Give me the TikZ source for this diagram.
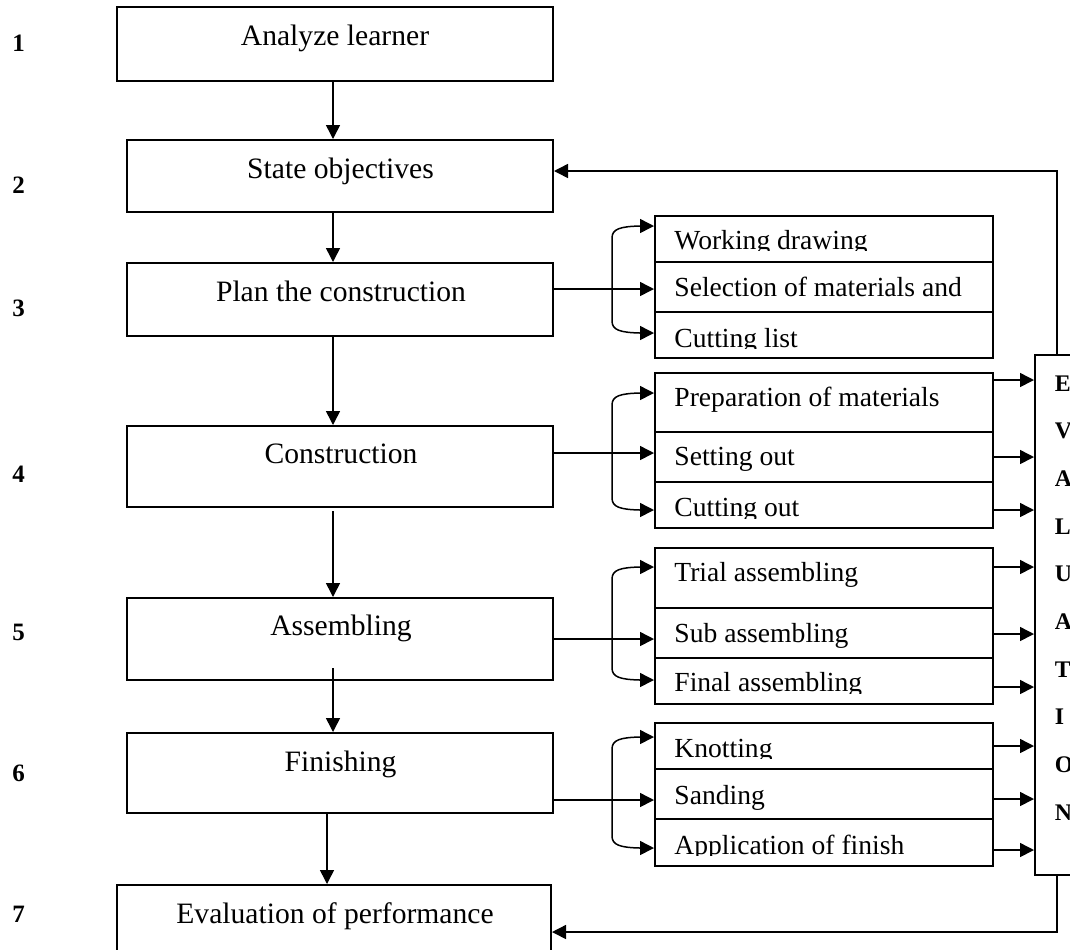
\documentclass[tikz,border=0pt]{standalone}
\usepackage{fontspec}
\setmainfont{Liberation Serif}
\usetikzlibrary{arrows.meta,calc}
\begin{document}
\begin{tikzpicture}[x=0.5pt,y=-0.5pt,
  box/.style={draw,line width=1pt,rectangle,inner sep=0pt},
  cell/.style={draw,line width=1pt,rectangle,inner sep=0pt,minimum width=169pt},
  maintxt/.style={inner sep=0pt,anchor=base,font=\fontsize{14.8}{17}\selectfont},
  subtxt/.style={inner sep=0pt,anchor=base west,font=\fontsize{13.8}{16}\selectfont},
  num/.style={inner sep=0pt,anchor=base,font=\bfseries\fontsize{12.5}{15}\selectfont},
  evtxt/.style={inner sep=0pt,anchor=north west,align=left,font=\bfseries\fontsize{11.9}{23.85}\selectfont},
  arr/.style={line width=0.75pt,-{Triangle[length=7pt,width=7pt]}},
  brace/.style={line width=0.75pt,{Triangle[length=7pt,width=7pt]}-{Triangle[length=7pt,width=7pt]}}]
\useasboundingbox (0,0) rectangle (1070,949);
\clip (0,0) rectangle (1070,949);

% main column boxes
\node[box,minimum width=218pt,minimum height=37pt] (a1) at (335,44) {};
\node[box,minimum width=213pt,minimum height=36pt] (a2) at (340,176) {};
\node[box,minimum width=213pt,minimum height=36.5pt] (a3) at (340,299.5) {};
\node[box,minimum width=213pt,minimum height=40.5pt] (a4) at (340,466.5) {};
\node[box,minimum width=213pt,minimum height=41pt] (a5) at (340,639) {};
\node[box,minimum width=213pt,minimum height=40pt] (a6) at (340,773) {};
\node[box,minimum width=217pt,minimum height=47pt] (a7) at (334,932) {};

\node[maintxt] (t1) at (335,45) {Analyze learner};
\node[maintxt] (t2) at (340.5,178.3) {State objectives};
\node[maintxt] (t3) at (341,301) {Plan the construction};
\node[maintxt] (t4) at (341,463) {Construction};
\node[maintxt] (t5) at (341,635.7) {Assembling};
\node[maintxt] (t6) at (340.5,771) {Finishing};
\node[maintxt] (t7) at (335,923.3) {Evaluation of performance};

% step numbers
\node[num] (n1) at (18.6,51.7) {1};
\node[num] (n2) at (18.6,193) {2};
\node[num] (n3) at (18.6,316) {3};
\node[num] (n4) at (18.6,482) {4};
\node[num] (n5) at (18.6,640.7) {5};
\node[num] (n6) at (18.6,781.7) {6};
\node[num] (n7) at (18.6,922.3) {7};

% sub-step cells
\node[cell,minimum height=23pt] (wd) at (824,239) {};
\node[cell,minimum height=25pt] (sm) at (824,287) {};
\node[cell,minimum height=23pt] (cl) at (824,335) {};
\node[cell,minimum height=29.5pt] (pm) at (824,402.5) {};
\node[cell,minimum height=25pt] (so) at (824,457) {};
\node[cell,minimum height=23pt] (co) at (824,505) {};
\node[cell,minimum height=30pt] (ta) at (824,578) {};
\node[cell,minimum height=25pt] (sa) at (824,633) {};
\node[cell,minimum height=23pt] (fa) at (824,681) {};
\node[cell,minimum height=23pt] (kn) at (824,746) {};
\node[cell,minimum height=25pt] (sd) at (824,794) {};
\node[cell,minimum height=23.5pt] (af) at (824,842.5) {};

\begin{scope}\clip (655,216) rectangle (993,250.5);
\node[subtxt] (x1) at (674,249) {Working drawing};\end{scope}
\node[subtxt] (x2) at (674,296.7) {Selection of materials and};
\begin{scope}\clip (655,312) rectangle (993,348.5);
\node[subtxt] (x3) at (674,347) {Cutting list};\end{scope}
\node[subtxt] (x4) at (674,406.7) {Preparation of materials};
\node[subtxt] (x5) at (674,465) {Setting out};
\begin{scope}\clip (655,482) rectangle (993,518);
\node[subtxt] (x6) at (674,516.7) {Cutting out};\end{scope}
\node[subtxt] (x7) at (674,581) {Trial assembling};
\node[subtxt] (x8) at (674,642.7) {Sub assembling};
\begin{scope}\clip (655,658) rectangle (993,693);
\node[subtxt] (x9) at (674,691.7) {Final assembling};\end{scope}
\begin{scope}\clip (655,723) rectangle (993,758.7);
\node[subtxt] (x10) at (674,757.3) {Knotting};\end{scope}
\node[subtxt] (x11) at (674,804) {Sanding};
\begin{scope}\clip (655,819) rectangle (993,855.5);
\node[subtxt] (x12) at (674,854) {Application of finish};\end{scope}

% evaluation box on the right
\node[box,minimum width=37.5pt,minimum height=260pt] (ev) at (1072.5,615) {};
\node[evtxt] (evt) at (1054.5,375) {E\\V\\A\\L\\U\\A\\T\\I\\O\\N};

% helper coordinates
\coordinate (sp) at (333,0);
\coordinate (sp2) at (327,0);
\coordinate (fx) at (1057,0);

% main column arrows
\draw[arr] (a1.south -| sp) -- (a2.north -| sp);
\draw[arr] (a2.south -| sp) -- (a3.north -| sp);
\draw[arr] (a3.south -| sp) -- (a4.north -| sp);
\draw[arr] ($(a4.south -| sp)+(0,3)$) -- (a5.north -| sp);
\draw[arr] ($(a5.south -| sp)+(0,-13)$) -- (a6.north -| sp);
\draw[arr] (a6.south -| sp2) -- (a7.north -| sp2);

% main box to middle cell
\draw[arr] (a3.east |- 0,289) -- (sm.west |- 0,289);
\draw[arr] (a4.east |- 0,453) -- (so.west |- 0,453);
\draw[arr] (a5.east |- 0,639) -- (sa.west |- 0,639);
\draw[arr] (a6.east |- 0,800) -- (sd.west |- 0,800);

% braces
\draw[brace] (wd.west |- 0,226) -- (640,226) .. controls (620,226.5) and (612,229) .. (612,238)
  -- (612,321) .. controls (612,330) and (620,332.5) .. (640,333) -- (cl.west |- 0,333);
\draw[brace] (pm.west |- 0,393) -- (640,393) .. controls (620,393.5) and (612,396) .. (612,405)
  -- (612,498) .. controls (612,507) and (620,509.5) .. (640,510) -- (co.west |- 0,510);
\draw[brace] (ta.west |- 0,567) -- (640,567) .. controls (620,567.5) and (612,570) .. (612,579)
  -- (612,668) .. controls (612,677) and (620,679.5) .. (640,680) -- (fa.west |- 0,680);
\draw[brace] (kn.west |- 0,737) -- (640,737) .. controls (620,737.5) and (612,740) .. (612,749)
  -- (612,836) .. controls (612,845) and (620,847.5) .. (640,848) -- (af.west |- 0,848);

% cells to evaluation box
\draw[arr] (pm.east |- 0,380) -- (ev.west |- 0,380);
\draw[arr] (so.east |- 0,457) -- (ev.west |- 0,457);
\draw[arr] (co.east |- 0,510) -- (ev.west |- 0,510);
\draw[arr] (ta.east |- 0,567) -- (ev.west |- 0,567);
\draw[arr] (sa.east |- 0,634) -- (ev.west |- 0,634);
\draw[arr] (fa.east |- 0,687) -- (ev.west |- 0,687);
\draw[arr] (kn.east |- 0,746) -- (ev.west |- 0,746);
\draw[arr] (sd.east |- 0,799) -- (ev.west |- 0,799);
\draw[arr] (af.east |- 0,850) -- (ev.west |- 0,850);

% feedback loops
\draw[arr] (ev.north -| fx) |- (a2.east |- 0,171);
\draw[arr] (ev.south -| fx) |- (a7.east);
\end{tikzpicture}
\end{document}
